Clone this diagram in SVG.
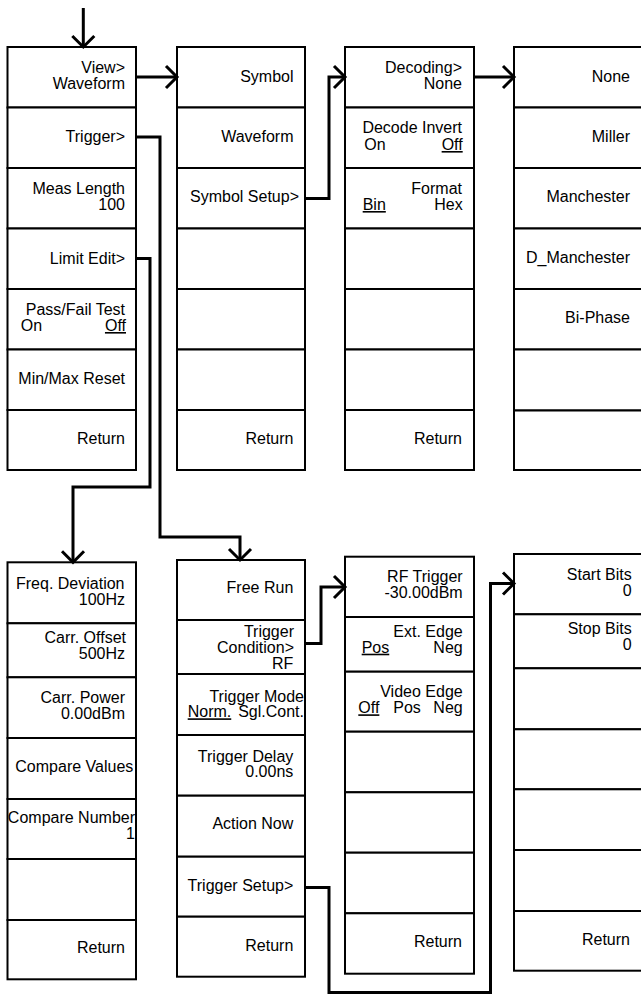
<svg xmlns="http://www.w3.org/2000/svg" width="641" height="995" viewBox="0 0 641 995">
<style>
.bg{fill:#fff}
.cell{fill:#fff;stroke:#000;stroke-width:2}
.t{font-family:"Liberation Sans",Arial,sans-serif;font-size:16px;fill:#000;text-anchor:end}
.s{text-anchor:start}
.u{text-decoration:underline}
.con{fill:none;stroke:#000;stroke-width:3;stroke-linejoin:miter}
</style>
<defs>
<marker id="chev" markerUnits="userSpaceOnUse" markerWidth="30" markerHeight="30" viewBox="-15 -15 30 30" refX="0" refY="0" orient="auto" overflow="visible">
<path d="M-11,-11 L0,0 L-11,11" fill="none" stroke="#000" stroke-width="3"/>
</marker>
</defs>
<rect class="bg" x="0" y="0" width="641" height="995"/>

<g id="menu-main">
<rect class="cell" x="7.5" y="47" width="128.5" height="60.5"/>
<rect class="cell" x="7.5" y="107.5" width="128.5" height="60.5"/>
<rect class="cell" x="7.5" y="168" width="128.5" height="60.5"/>
<rect class="cell" x="7.5" y="228.5" width="128.5" height="60.5"/>
<rect class="cell" x="7.5" y="289" width="128.5" height="60.5"/>
<rect class="cell" x="7.5" y="349.5" width="128.5" height="60.5"/>
<rect class="cell" x="7.5" y="410" width="128.5" height="60"/>
<text class="t" x="125" y="73">View&gt;</text>
<text class="t" x="125" y="89">Waveform</text>
<text class="t" x="125" y="142">Trigger&gt;</text>
<text class="t" x="125" y="194">Meas Length</text>
<text class="t" x="125" y="210">100</text>
<text class="t" x="125" y="263.5">Limit Edit&gt;</text>
<text class="t" x="125" y="315">Pass/Fail Test</text>
<text class="t s" x="20.7" y="331">On</text>
<text class="t u" x="126" y="331">Off</text>
<text class="t" x="125" y="384">Min/Max Reset</text>
<text class="t" x="125" y="444">Return</text>
</g>

<g id="menu-view">
<rect class="cell" x="177" y="47" width="128" height="60.5"/>
<rect class="cell" x="177" y="107.5" width="128" height="60.5"/>
<rect class="cell" x="177" y="168" width="128" height="60.5"/>
<rect class="cell" x="177" y="228.5" width="128" height="60.5"/>
<rect class="cell" x="177" y="289" width="128" height="60.5"/>
<rect class="cell" x="177" y="349.5" width="128" height="60.5"/>
<rect class="cell" x="177" y="410" width="128" height="60"/>
<text class="t" x="293.5" y="81.7">Symbol</text>
<text class="t" x="293.5" y="141.7">Waveform</text>
<text class="t" x="299" y="202.3">Symbol Setup&gt;</text>
<text class="t" x="293.5" y="444">Return</text>
</g>

<g id="menu-symbol-setup">
<rect class="cell" x="345" y="47" width="129" height="60.5"/>
<rect class="cell" x="345" y="107.5" width="129" height="60.5"/>
<rect class="cell" x="345" y="168" width="129" height="60.5"/>
<rect class="cell" x="345" y="228.5" width="129" height="60.5"/>
<rect class="cell" x="345" y="289" width="129" height="60.5"/>
<rect class="cell" x="345" y="349.5" width="129" height="60.5"/>
<rect class="cell" x="345" y="410" width="129" height="60"/>
<text class="t" x="462" y="72.7">Decoding&gt;</text>
<text class="t" x="462" y="88.5">None</text>
<text class="t" x="462" y="133.3">Decode Invert</text>
<text class="t s" x="364.3" y="150">On</text>
<text class="t u" x="462.7" y="150">Off</text>
<text class="t" x="462" y="194">Format</text>
<text class="t s u" x="362.7" y="210">Bin</text>
<text class="t" x="462.7" y="210">Hex</text>
<text class="t" x="462" y="444">Return</text>
</g>

<g id="menu-decoding">
<rect class="cell" x="514" y="47" width="128" height="60.5"/>
<rect class="cell" x="514" y="107.5" width="128" height="60.5"/>
<rect class="cell" x="514" y="168" width="128" height="60.5"/>
<rect class="cell" x="514" y="228.5" width="128" height="60.5"/>
<rect class="cell" x="514" y="289" width="128" height="60.5"/>
<rect class="cell" x="514" y="349.5" width="128" height="61"/>
<rect class="cell" x="514" y="410.5" width="128" height="59.5"/>
<text class="t" x="630" y="81.7">None</text>
<text class="t" x="630" y="141.7">Miller</text>
<text class="t" x="630" y="201.7">Manchester</text>
<text class="t" x="630" y="263.3">D_Manchester</text>
<text class="t" x="630" y="323.3">Bi-Phase</text>
</g>

<g id="menu-limit-edit">
<rect class="cell" x="7.5" y="562.3" width="128.5" height="61"/>
<rect class="cell" x="7.5" y="623.3" width="128.5" height="54"/>
<rect class="cell" x="7.5" y="677.3" width="128.5" height="60.7"/>
<rect class="cell" x="7.5" y="738" width="128.5" height="61"/>
<rect class="cell" x="7.5" y="799" width="128.5" height="60"/>
<rect class="cell" x="7.5" y="859" width="128.5" height="61"/>
<rect class="cell" x="7.5" y="920" width="128.5" height="59.3"/>
<text class="t" x="124.5" y="589">Freq. Deviation</text>
<text class="t" x="125" y="605">100Hz</text>
<text class="t" x="126" y="643.3">Carr. Offset</text>
<text class="t" x="125" y="659">500Hz</text>
<text class="t" x="125" y="703.3">Carr. Power</text>
<text class="t" x="125" y="719.3">0.00dBm</text>
<text class="t" x="133.3" y="772.3">Compare Values</text>
<text class="t" x="135" y="823.3">Compare Number</text>
<text class="t" x="135" y="839">1</text>
<text class="t" x="125" y="952.7">Return</text>
</g>

<g id="menu-trigger">
<rect class="cell" x="177" y="560" width="128" height="60"/>
<rect class="cell" x="177" y="620" width="128" height="54"/>
<rect class="cell" x="177" y="674" width="128" height="61"/>
<rect class="cell" x="177" y="735" width="128" height="60.7"/>
<rect class="cell" x="177" y="795.7" width="128" height="61"/>
<rect class="cell" x="177" y="856.7" width="128" height="60"/>
<rect class="cell" x="177" y="916.7" width="128" height="60"/>
<text class="t" x="293.3" y="593.3">Free Run</text>
<text class="t" x="294" y="637.3">Trigger</text>
<text class="t" x="294" y="653.3">Condition&gt;</text>
<text class="t" x="293.3" y="669.3">RF</text>
<text class="t" x="304" y="701.7">Trigger Mode</text>
<text class="t s u" x="187.7" y="717.3">Norm.</text>
<text class="t" x="304" y="717.3">Sgl.Cont.</text>
<text class="t" x="293.3" y="761.7">Trigger Delay</text>
<text class="t" x="293.3" y="777.3">0.00ns</text>
<text class="t" x="293.3" y="829.3">Action Now</text>
<text class="t" x="293.3" y="890.7">Trigger Setup&gt;</text>
<text class="t" x="293.3" y="950.7">Return</text>
</g>

<g id="menu-trigger-condition">
<rect class="cell" x="345" y="556.7" width="129" height="60.3"/>
<rect class="cell" x="345" y="617" width="129" height="54.7"/>
<rect class="cell" x="345" y="671.7" width="129" height="60"/>
<rect class="cell" x="345" y="731.7" width="129" height="60.6"/>
<rect class="cell" x="345" y="792.3" width="129" height="60.4"/>
<rect class="cell" x="345" y="852.7" width="129" height="60.6"/>
<rect class="cell" x="345" y="913.3" width="129" height="60.4"/>
<text class="t" x="462.7" y="581.7">RF Trigger</text>
<text class="t" x="462.7" y="598.3">-30.00dBm</text>
<text class="t" x="462.7" y="636.7">Ext. Edge</text>
<text class="t s u" x="361.7" y="652.7">Pos</text>
<text class="t" x="462.7" y="652.7">Neg</text>
<text class="t" x="462.7" y="697.3">Video Edge</text>
<text class="t s u" x="358.3" y="713.3">Off</text>
<text class="t s" x="393.3" y="713.3">Pos</text>
<text class="t" x="462.7" y="713.3">Neg</text>
<text class="t" x="462" y="946.7">Return</text>
</g>

<g id="menu-trigger-setup">
<rect class="cell" x="514" y="554" width="128" height="60.3"/>
<rect class="cell" x="514" y="614.3" width="128" height="54"/>
<rect class="cell" x="514" y="668.3" width="128" height="61"/>
<rect class="cell" x="514" y="729.3" width="128" height="60"/>
<rect class="cell" x="514" y="789.3" width="128" height="60.7"/>
<rect class="cell" x="514" y="850" width="128" height="61"/>
<rect class="cell" x="514" y="911" width="128" height="59.7"/>
<text class="t" x="631.7" y="580">Start Bits</text>
<text class="t" x="631.7" y="595.7">0</text>
<text class="t" x="631.7" y="634">Stop Bits</text>
<text class="t" x="631.7" y="650">0</text>
<text class="t" x="630" y="945">Return</text>
</g>

<g id="connectors">
<path class="con" d="M83.3,8 V47" marker-end="url(#chev)"/>
<path class="con" d="M136,77 H177" marker-end="url(#chev)"/>
<path class="con" d="M136,137 H160 V537 H240 V560" marker-end="url(#chev)"/>
<path class="con" d="M136,258.5 H150 V487 H73 V562.3" marker-end="url(#chev)"/>
<path class="con" d="M305,198.5 H329 V77 H345" marker-end="url(#chev)"/>
<path class="con" d="M474,77 H514" marker-end="url(#chev)"/>
<path class="con" d="M305,643.5 H321 V587 H345" marker-end="url(#chev)"/>
<path class="con" d="M305,887.5 H329 V992.5 H490.5 V583.5 H514" marker-end="url(#chev)"/>
</g>
</svg>
